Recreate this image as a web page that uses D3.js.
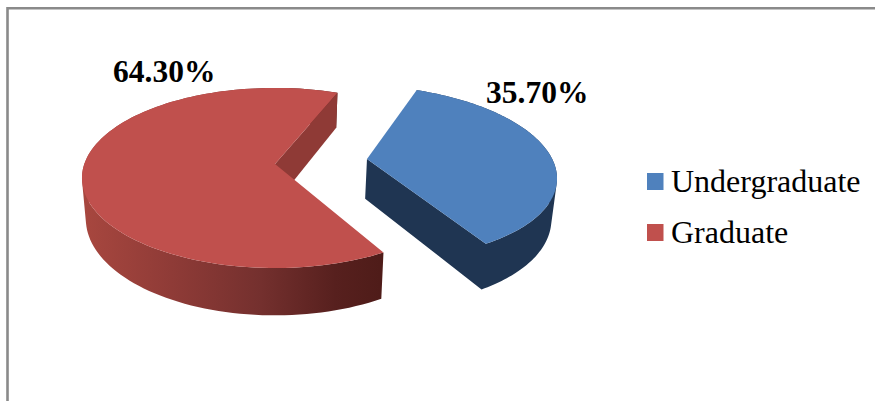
<!DOCTYPE html>
<html>
<head>
<meta charset="utf-8">
<script src="https://cdn.jsdelivr.net/npm/d3@7"></script>
<style>
  html, body { margin: 0; padding: 0; background: #fff; }
  svg { display: block; }
  text { font-family: "Liberation Serif", serif; fill: #000; }
</style>
</head>
<body>
<svg id="chart" width="875" height="401"></svg>
<script>
const categories = ["Undergraduate", "Graduate"];
const shares = [35.7, 64.3];
const shareLabels = ["35.70%", "64.30%"];
const topColors = ["#4f81bd", "#c0504d"];
const cutWallColors = ["#1f3552", "#8f3a36"];
const firstSliceAngle = 22 * Math.PI / 180;
const explodedBy = [0.49, 0];
const sliceRadius = [0.98, 1];

const svg = d3.select("#chart");

// Pie lying on its back, seen in perspective: (u, v) on the unit disc, v towards the viewer.
const view = { cx: 275, cy: 164, rx: 190.7, ry: 87.9, k: 0.155, depth: 40, taper: 0.98, explodeTilt: -3 * Math.PI / 180 };

function project(u, v, lower) {
  const w = 1 - view.k * v;
  const taper = lower ? view.taper : 1;
  return [
    view.cx + taper * view.rx * u / w,
    view.cy + (view.ry * v + (lower ? view.depth : 0)) / w
  ];
}

const slices = d3.pie().sort(null).startAngle(firstSliceAngle).endAngle(firstSliceAngle + 2 * Math.PI)(shares);

const outline = d3.line().curve(d3.curveLinear);

// Disc coordinates of a slice: its apex and a run of rim points
function sliceGeometry(s, i) {
  const mid = (s.startAngle + s.endAngle) / 2 + view.explodeTilt;
  const apex = [explodedBy[i] * Math.sin(mid), -explodedBy[i] * Math.cos(mid)];
  const rim = d3.range(0, 121).map(j => {
    const a = s.startAngle + (s.endAngle - s.startAngle) * j / 120;
    return [apex[0] + sliceRadius[i] * Math.sin(a), apex[1] - sliceRadius[i] * Math.cos(a)];
  });
  return { apex, rim };
}

const defs = svg.append("defs");
const wallShade = defs.append("linearGradient")
  .attr("id", "graduateWall")
  .attr("gradientUnits", "userSpaceOnUse")
  .attr("x1", 82).attr("x2", 380).attr("y1", 0).attr("y2", 0);
[[0, "#a8473f"], [0.3, "#8f3b37"], [0.6, "#74302e"], [0.85, "#57201e"], [1, "#4f1c19"]]
  .forEach(([o, c]) => wallShade.append("stop").attr("offset", o).attr("stop-color", c));
const outerFills = ["#1f3552", "url(#graduateWall)"];

// Frame round the chart area
svg.append("path")
  .attr("d", "M7.5,401V8.3H875")
  .attr("fill", "none")
  .attr("stroke", "#8a8a8a")
  .attr("stroke-width", 2.6);

// One winding for every wall quad, so quads sharing a path merge without seams
const wound = quad => (d3.polygonArea(quad) < 0 ? quad.slice().reverse() : quad);
const quadPath = quads => quads.map(q => outline(wound(q)) + "Z").join("");

// Walls first, then the top faces that hide their far parts.
// Each slice shows one cut wall: the undergraduate slice its near edge, the graduate slice its far edge.
slices.forEach((s, i) => {
  const { apex, rim } = sliceGeometry(s, i);
  const g = svg.append("g").attr("class", "slice");
  const top = rim.map(p => project(p[0], p[1], false));
  const bottom = rim.map(p => project(p[0], p[1], true));

  const strips = d3.pairs(d3.range(rim.length)).map(([a, b]) => [top[a], top[b], bottom[b], bottom[a]]);
  const last = rim.length - 1;
  const cutWall = [
    project(apex[0], apex[1], false),
    top[last],
    bottom[last],
    project(apex[0], apex[1], true)
  ];

  if (outerFills[i] === cutWallColors[i]) {
    g.append("path").attr("d", quadPath([...strips, cutWall])).attr("fill", outerFills[i]);
  } else {
    g.append("path").attr("d", quadPath(strips)).attr("fill", outerFills[i]);
    g.append("path").attr("d", quadPath([cutWall])).attr("fill", cutWallColors[i]);
  }

  g.append("path")
    .attr("d", outline([project(apex[0], apex[1], false), ...top]) + "Z")
    .attr("fill", topColors[i]);
});

// Value labels
const labelPositions = [[486, 103], [113, 82]];
svg.selectAll("text.value")
  .data(shareLabels)
  .join("text")
  .attr("class", "value")
  .attr("x", (d, i) => labelPositions[i][0])
  .attr("y", (d, i) => labelPositions[i][1])
  .attr("font-size", 31.5)
  .attr("font-weight", "bold")
  .text(d => d);

// Legend
const legendRow = d3.scalePoint().domain(categories).range([192, 243]);
const legend = svg.selectAll("g.legend")
  .data(categories)
  .join("g")
  .attr("class", "legend")
  .attr("transform", d => `translate(647,${legendRow(d)})`);
legend.append("rect")
  .attr("y", -19).attr("width", 16.5).attr("height", 17)
  .attr("fill", (d, i) => topColors[i]);
legend.append("text")
  .attr("x", 24)
  .attr("font-size", 32)
  .text(d => d);
</script>
</body>
</html>
